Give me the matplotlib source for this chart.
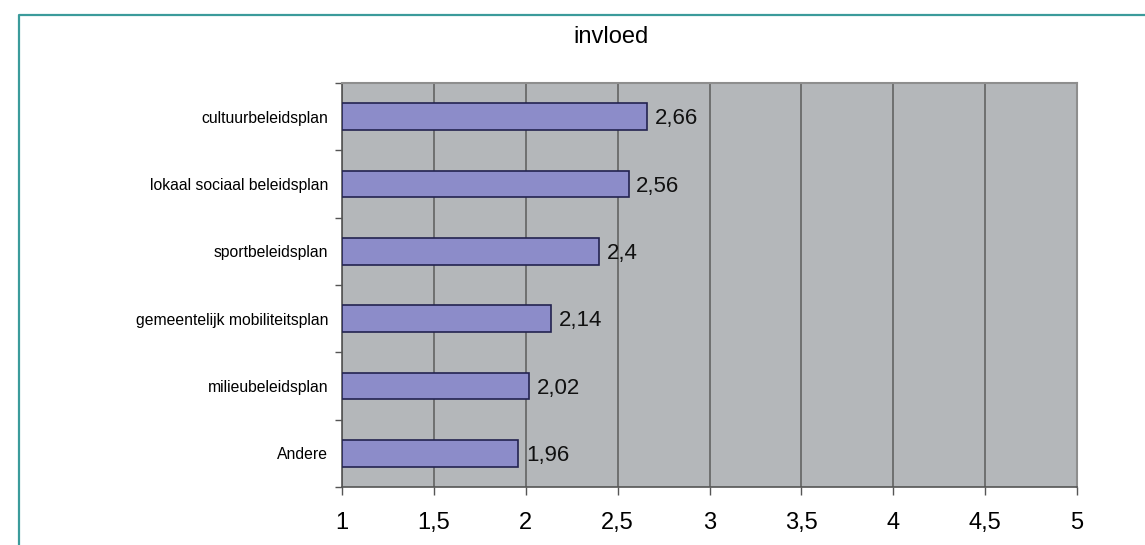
import matplotlib
matplotlib.use("Agg")
import matplotlib.pyplot as plt
from matplotlib.lines import Line2D

plt.rcParams['font.family'] = ['Liberation Sans', 'DejaVu Sans']

categories = ['cultuurbeleidsplan', 'lokaal sociaal beleidsplan', 'sportbeleidsplan',
              'gemeentelijk mobiliteitsplan', 'milieubeleidsplan', 'Andere']
values = [2.66, 2.56, 2.4, 2.14, 2.02, 1.96]
xticks = [1, 1.5, 2, 2.5, 3, 3.5, 4, 4.5, 5]
xlabels = ['1', '1,5', '2', '2,5', '3', '3,5', '4', '4,5', '5']

W, H = 1145, 545
fig = plt.figure(figsize=(W / 100, H / 100), dpi=100)
ax = fig.add_axes([342 / W, 1 - 487 / H, (1077 - 342) / W, (487 - 83) / H])
ax.set_facecolor('#b4b7ba')

n = len(categories)
ypos = [n - 1 - i for i in range(n)]
base = 1
ax.barh(ypos, [v - base for v in values], left=base, height=0.4,
        color='#8c8cc9', edgecolor='#232350', linewidth=1.2, zorder=3)
# value labels, digits centred on the bar
for y, v in zip(ypos, values):
    ax.text(v + 0.04, y - 0.115, f'{v:g}'.replace('.', ','), va='baseline', ha='left',
            fontsize=16, color='#111111', zorder=4)

ax.set_xlim(1, 5)
ax.set_ylim(-0.5, n - 0.5)
ax.set_xticks(xticks)
ax.set_xticklabels(xlabels, fontsize=17)
ax.tick_params(axis='x', length=6, width=1, color='#555555', pad=12)
ax.grid(axis='x', color='#5c5c5c', linewidth=1.1, zorder=1)

# category labels at the bar centres, tick marks on the boundaries
ax.set_yticks([i - 0.5 for i in range(n + 1)])
ax.set_yticklabels([])
ax.tick_params(axis='y', which='major', length=5, width=1, color='#555555')
ax.set_yticks(ypos, minor=True)
ax.set_yticklabels(categories, minor=True, fontsize=11.3)
ax.tick_params(axis='y', which='minor', length=0, pad=10)

for side in ('top', 'right'):
    ax.spines[side].set_color('#8e8e8e')
    ax.spines[side].set_linewidth(1.5)
for side in ('left', 'bottom'):
    ax.spines[side].set_color('#555555')
    ax.spines[side].set_linewidth(1.2)

fig.text(611 / W, 1 - 37 / H, 'invloed', ha='center', va='center', fontsize=17)

# teal frame on the left and top
fig.add_artist(Line2D([19 / W, 19 / W, 1.0], [0.0, 1 - 15 / H, 1 - 15 / H],
                      transform=fig.transFigure, color='#3b9b9b', linewidth=1.6))

fig.savefig('out.png', dpi=100)
